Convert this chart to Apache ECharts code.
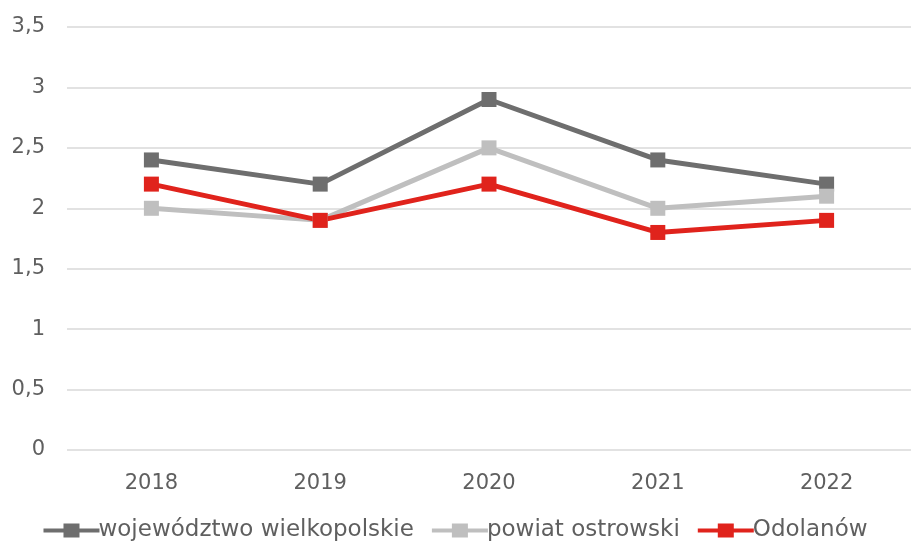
<!DOCTYPE html>
<html><head><meta charset="utf-8">
<script src="https://cdn.jsdelivr.net/npm/echarts@6/dist/echarts.min.js"></script>
<style>html,body{margin:0;padding:0;background:#fff}#c{width:911px;height:544px}</style>
</head><body><div id="c"></div>
<script>
const categories = ['2018','2019','2020','2021','2022'];
const wojewodztwo = [2.4, 2.2, 2.9, 2.4, 2.2];
const powiat = [2.0, 1.9, 2.5, 2.0, 2.1];
const odolanow = [2.2, 1.9, 2.2, 1.8, 1.9];
const seriesNames = ['województwo wielkopolskie','powiat ostrowski','Odolanów'];
const colors = ['#6e6e6e','#bfbfbf','#e0231c'];
const FONT = '"DejaVu Sans", sans-serif';
const chart = echarts.init(document.getElementById('c'));
const mk = (name, data, color) => ({
  name, type: 'line', data, symbol: 'rect', symbolSize: 15,
  lineStyle: {width: 5, color}, itemStyle: {color},
  z: 3, animation: false
});
chart.setOption({
  animation: false,
  color: colors,
  grid: {left: 67, right: 0, top: 27, bottom: 94, containLabel: false},
  legend: {
    bottom: -3, left: 'center',
    itemWidth: 56, itemHeight: 14, itemGap: 18,
    textStyle: {fontSize: 23, color: '#5f5f5f', fontFamily: FONT, padding: [0,0,0,-6]},
    data: seriesNames.map((n,i)=>({name:n, icon:'path://M0,5 L20,5 L20,0 L36,0 L36,5 L56,5 L56,9 L36,9 L36,14 L20,14 L20,9 L0,9 Z', itemStyle:{color:colors[i]}}))
  },
  xAxis: {
    type: 'category', data: categories, boundaryGap: true,
    axisLine: {show: false}, axisTick: {show: false},
    axisLabel: {fontSize: 21, color: '#5f5f5f', fontFamily: FONT, margin: 23}
  },
  yAxis: {
    type: 'value', min: 0, max: 3.5, interval: 0.5,
    axisLine: {show: false}, axisTick: {show: false},
    splitLine: {lineStyle: {color: '#d9d9d9', width: 1.5}},
    axisLabel: {fontSize: 21, color: '#5f5f5f', fontFamily: FONT, margin: 22,
      formatter: v => String(v).replace('.', ',')}
  },
  series: [mk(seriesNames[0], wojewodztwo, colors[0]), mk(seriesNames[1], powiat, colors[1]), mk(seriesNames[2], odolanow, colors[2])]
});
</script></body></html>
